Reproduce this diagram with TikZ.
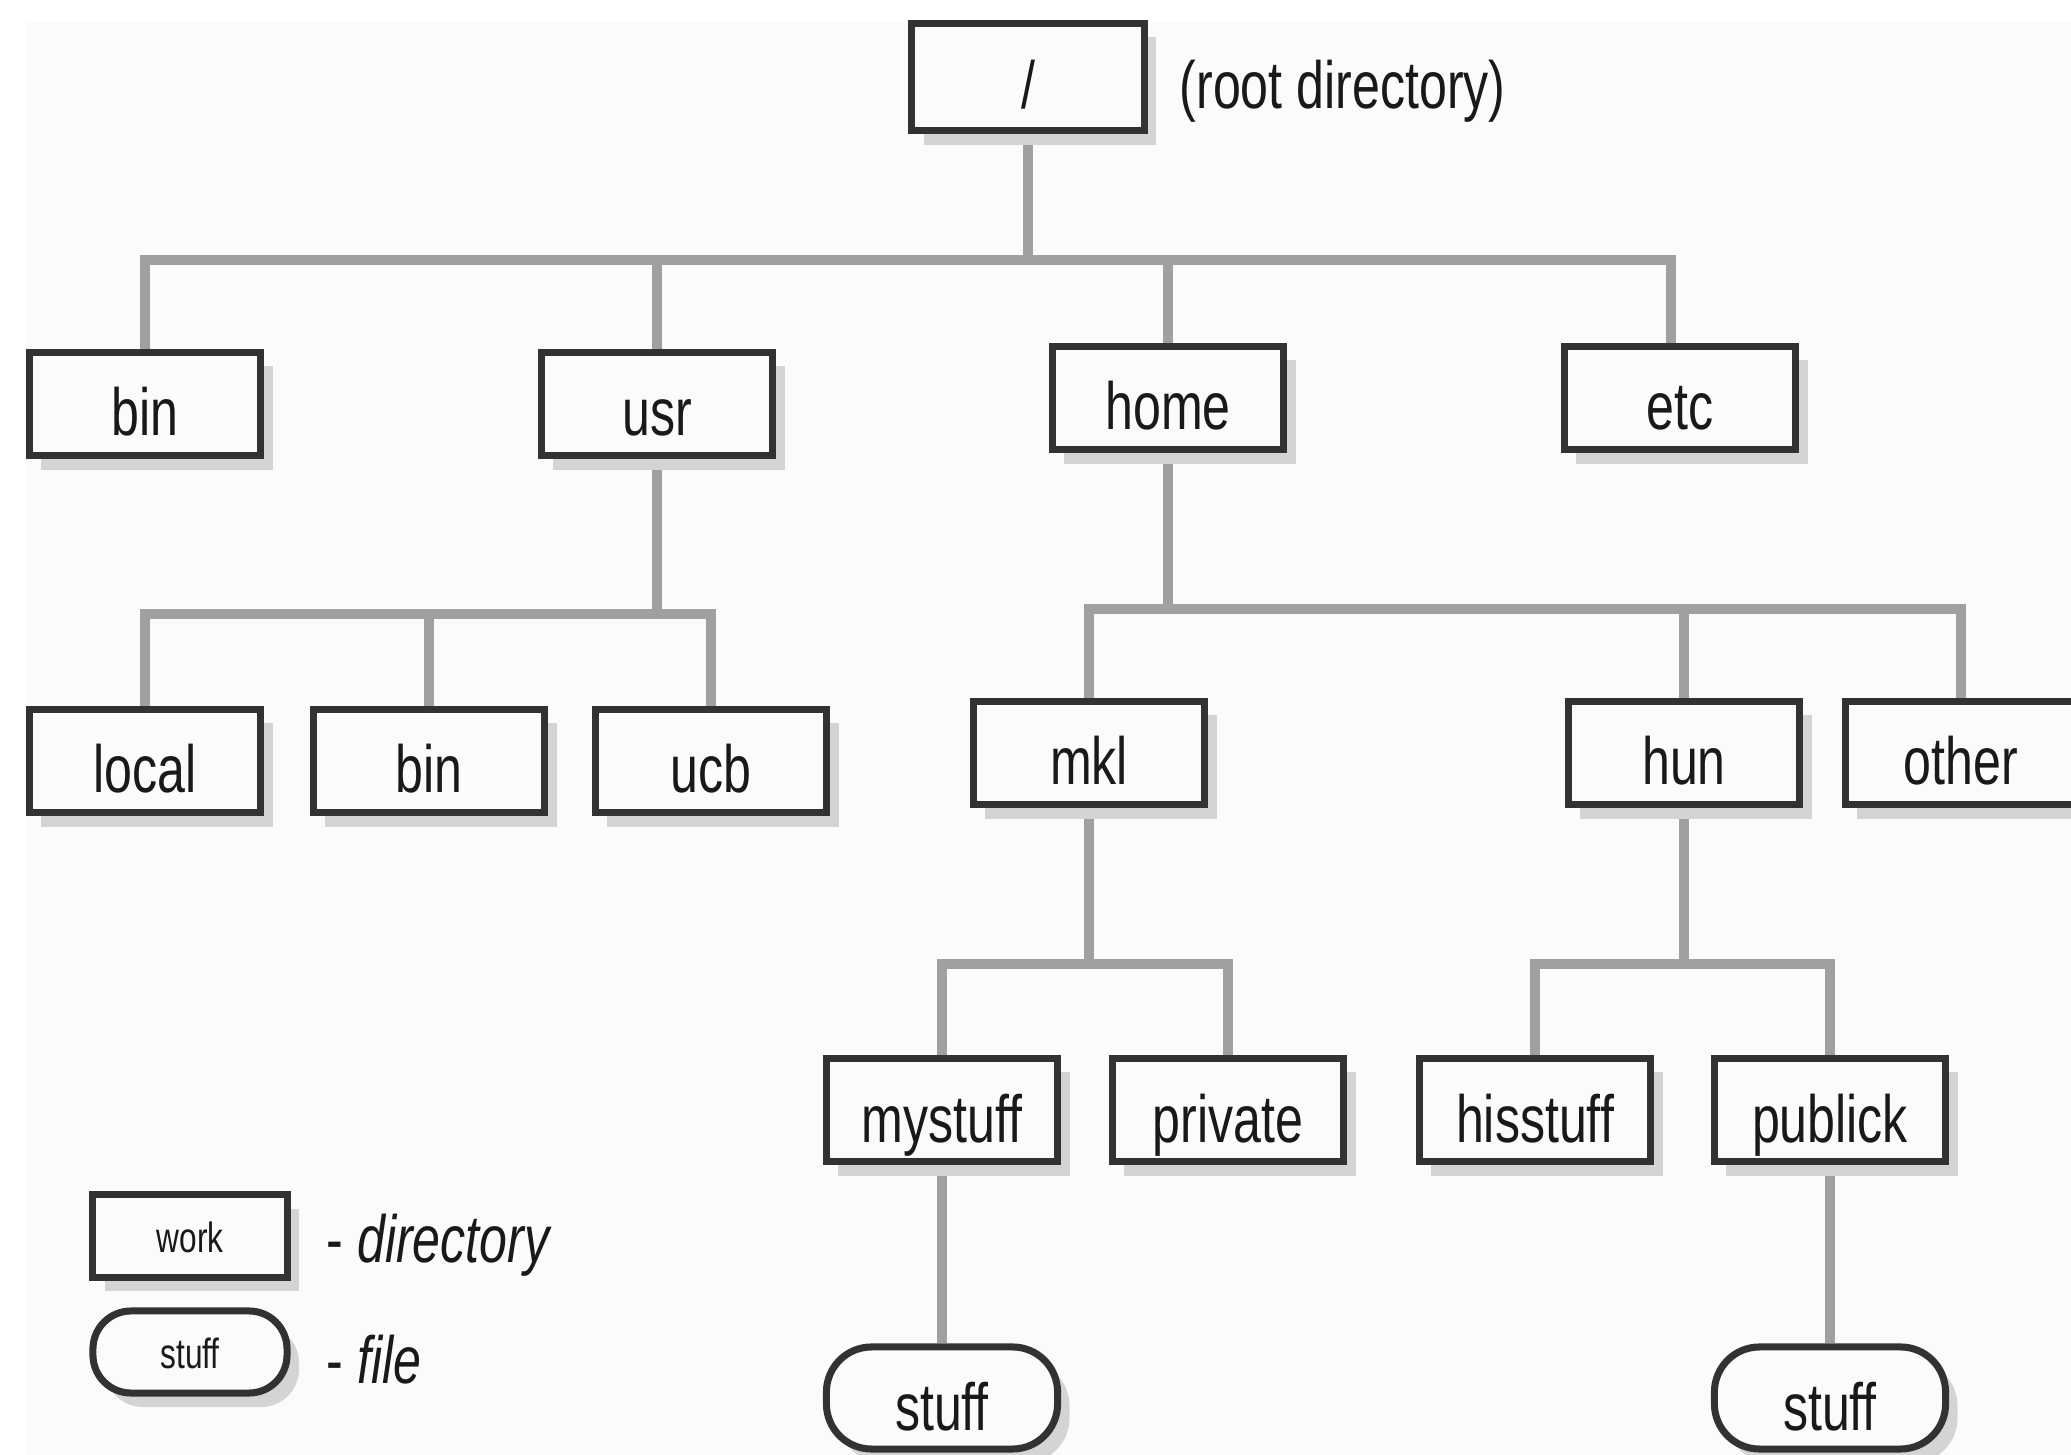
\documentclass[tikz,border=0pt]{standalone}
\usepackage{fontspec}
\setmainfont{Liberation Sans}[FakeStretch=0.75]
\usetikzlibrary{shadows}
\definecolor{bgc}{RGB}{250,251,250}
\definecolor{edgec}{RGB}{50,50,52}
\definecolor{connc}{RGB}{160,160,160}
\definecolor{shadc}{RGB}{212,212,212}
\pgfdeclarelayer{bglayer}
\pgfdeclarelayer{connlayer}
\pgfsetlayers{bglayer,connlayer,main}
\tikzset{
  dirbox/.style={draw=edgec, line width=2pt, fill=bgc, minimum width=2.31cm, minimum height=1.03cm,
    inner sep=0pt, font=\fontsize{19}{22}\selectfont, text=black!90, text height=19pt, text depth=0.8pt,
    drop shadow={shadow xshift=1.2mm, shadow yshift=-1.4mm, fill=shadc, opacity=1}},
  filebox/.style={dirbox, rounded corners=0.45cm, minimum height=1.02cm},
  legbox/.style={dirbox, minimum width=1.94cm, minimum height=0.82cm, font=\fontsize{12}{14}\selectfont,
    text height=10pt, text depth=0.5pt},
  legfile/.style={legbox, rounded corners=0.38cm},
  conn/.style={draw=connc, line width=2.8pt, line join=miter},
  lbl/.style={font=\fontsize{19}{22}\selectfont, text=black!90, inner sep=0pt, anchor=west}
}
\begin{document}
\begin{tikzpicture}[x=0.01cm,y=-0.01cm]
\useasboundingbox (0,0) rectangle (2071,1455);
\begin{pgfonlayer}{bglayer}
  \fill[bgc] (25,22) rectangle (2071,1455);
\end{pgfonlayer}
% root
\node[dirbox, minimum width=2.32cm, minimum height=1.07cm] (root) at (1028,77) {/};
\node[lbl] (rootlbl) at (1179,91) {(root directory)};
% level 1
\node[dirbox] (bin) at (145,404) {bin};
\node[dirbox] (usr) at (657,404) {usr};
\node[dirbox] (home) at (1168,398) {home};
\node[dirbox] (etc) at (1680,398) {etc};
% level 2
\node[dirbox] (local) at (145,761) {local};
\node[dirbox] (bintwo) at (429,761) {bin};
\node[dirbox] (ucb) at (711,761) {ucb};
\node[dirbox] (mkl) at (1089,753) {mkl};
\node[dirbox] (hun) at (1684,753) {hun};
\node[dirbox] (other) at (1961,753) {other};
% level 3
\node[dirbox] (mystuff) at (942,1110) {mystuff};
\node[dirbox] (private) at (1228,1110) {private};
\node[dirbox] (hisstuff) at (1535,1110) {hisstuff};
\node[dirbox] (publick) at (1830,1110) {publick};
% files
\node[filebox] (stuffa) at (942,1398) {stuff};
\node[filebox] (stuffb) at (1830,1398) {stuff};
% legend
\node[legbox] (work) at (190,1236) {work};
\node[lbl] (dirlbl) at (326,1245) {- \itshape directory};
\node[legfile] (legstuff) at (190,1352) {stuff};
\node[lbl] (filelbl) at (326,1360) {- \itshape file};
% bus coordinates
\coordinate (b1) at (0,260);
\coordinate (b2) at (0,614);
\coordinate (b3) at (0,609);
\coordinate (b4) at (0,964);
\begin{pgfonlayer}{connlayer}
  \foreach \c in {bin,usr,home}
    \draw[conn] (root.south) -- (root.south |- b1) -| (\c.north);
  \draw[conn] (root.south) -- (root.south |- b1) -| ([xshift=-0.09cm]etc.north);
  \foreach \c in {local,bintwo,ucb}
    \draw[conn] (usr.south) -- (usr.south |- b2) -| (\c.north);
  \foreach \c in {mkl,hun,other}
    \draw[conn] (home.south) -- (home.south |- b3) -| (\c.north);
  \foreach \c in {mystuff,private}
    \draw[conn] (mkl.south) -- (mkl.south |- b4) -| (\c.north);
  \foreach \c in {hisstuff,publick}
    \draw[conn] (hun.south) -- (hun.south |- b4) -| (\c.north);
  \draw[conn] (mystuff.south) -- (stuffa.north);
  \draw[conn] (publick.south) -- (stuffb.north);
\end{pgfonlayer}
\end{tikzpicture}
\end{document}
